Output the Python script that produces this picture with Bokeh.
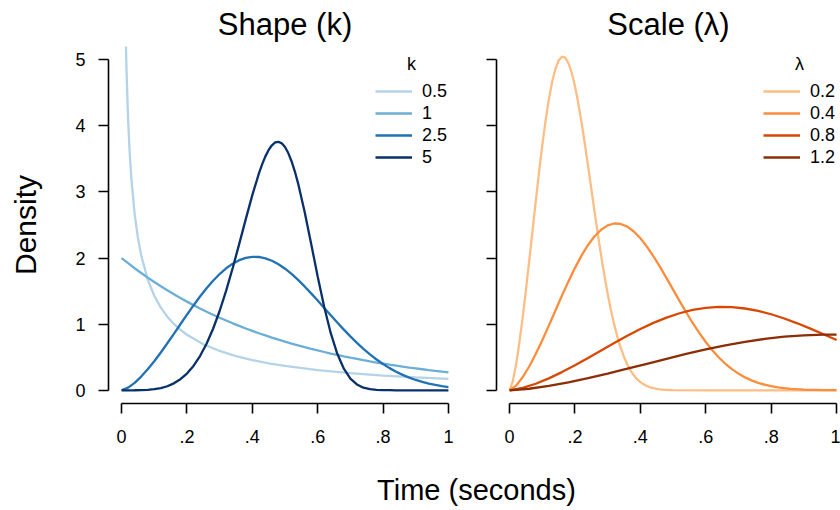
from bokeh.plotting import figure
from bokeh.models import Range1d, FixedTicker, Legend, LegendItem, Label
from bokeh.layouts import row, column
from bokeh.embed import file_html
from bokeh.resources import INLINE

FONT = "Liberation Sans"

# ---------------- data ----------------
x_ticks = [0, 0.2, 0.4, 0.6, 0.8, 1]
x_tick_labels = ["0", ".2", ".4", ".6", ".8", "1"]
y_ticks = [0, 1, 2, 3, 4, 5]
y_tick_labels = ["0", "1", "2", "3", "4", "5"]

shape_labels = ["0.5", "1", "2.5", "5"]
scale_labels = ["0.2", "0.4", "0.8", "1.2"]
shape_colors = ["#b4d3e9", "#6baed6", "#2171b5", "#08306b"]
scale_colors = ["#fdbe85", "#fd8d3c", "#d94801", "#8c2d04"]

time_k05 = [0.005, 0.0075, 0.01, 0.0125, 0.015, 0.02, 0.025, 0.03, 0.04, 0.05,
            0.06, 0.08, 0.10, 0.12, 0.14, 0.16, 0.18, 0.20, 0.25, 0.30, 0.35,
            0.40, 0.45, 0.50, 0.60, 0.70, 0.80, 0.90, 1.00]
dens_k05 = [9.048, 7.224, 6.139, 5.400, 4.855, 4.094, 3.576, 3.196, 2.664, 2.305,
            2.042, 1.676, 1.430, 1.251, 1.113, 1.004, 0.915, 0.840, 0.697, 0.595,
            0.518, 0.457, 0.408, 0.368, 0.305, 0.259, 0.223, 0.195, 0.172]

time = [0.00, 0.02, 0.04, 0.06, 0.08, 0.10, 0.12, 0.14, 0.16, 0.18,
        0.20, 0.22, 0.24, 0.26, 0.28, 0.30, 0.32, 0.34, 0.36, 0.38,
        0.40, 0.42, 0.44, 0.46, 0.48, 0.50, 0.52, 0.54, 0.56, 0.58,
        0.60, 0.62, 0.64, 0.66, 0.68, 0.70, 0.72, 0.74, 0.76, 0.78,
        0.80, 0.82, 0.84, 0.86, 0.88, 0.90, 0.92, 0.94, 0.96, 0.98, 1.00]
dens_k1 = [2.000, 1.922, 1.846, 1.774, 1.704, 1.637, 1.573, 1.512, 1.452, 1.395,
           1.341, 1.288, 1.238, 1.189, 1.142, 1.098, 1.055, 1.013, 0.974, 0.935,
           0.899, 0.863, 0.830, 0.797, 0.766, 0.736, 0.707, 0.679, 0.653, 0.627,
           0.602, 0.579, 0.556, 0.534, 0.513, 0.493, 0.474, 0.455, 0.437, 0.420,
           0.404, 0.388, 0.373, 0.358, 0.344, 0.331, 0.318, 0.305, 0.293, 0.282, 0.271]
dens_k25 = [0.000, 0.040, 0.113, 0.207, 0.317, 0.439, 0.572, 0.711, 0.854, 0.999,
            1.143, 1.283, 1.418, 1.543, 1.657, 1.758, 1.845, 1.915, 1.968, 2.002,
            2.018, 2.016, 1.996, 1.959, 1.906, 1.839, 1.760, 1.670, 1.571, 1.466,
            1.357, 1.246, 1.134, 1.024, 0.917, 0.815, 0.718, 0.627, 0.543, 0.466,
            0.397, 0.335, 0.281, 0.233, 0.192, 0.156, 0.126, 0.101, 0.081, 0.063, 0.049]
time_k5 = [0.00, 0.02, 0.04, 0.06, 0.08, 0.10, 0.12, 0.14, 0.16, 0.18,
           0.20, 0.22, 0.24, 0.26, 0.28, 0.30, 0.32, 0.34, 0.36, 0.38,
           0.40, 0.42, 0.43, 0.44, 0.45, 0.46, 0.47, 0.48, 0.49, 0.50,
           0.51, 0.52, 0.53, 0.54, 0.56, 0.58, 0.60, 0.62, 0.64, 0.66,
           0.68, 0.70, 0.72, 0.74, 0.76, 0.78, 0.80, 0.82, 0.84, 0.86,
           0.88, 0.90, 0.92, 0.94, 0.96, 0.98, 1.00]
dens_k5 = [0.0000, 0.0000, 0.0004, 0.0021, 0.0066, 0.016, 0.033, 0.061, 0.105, 0.167,
           0.253, 0.369, 0.518, 0.704, 0.931, 1.199, 1.507, 1.849, 2.215, 2.589,
           2.952, 3.277, 3.417, 3.538, 3.635, 3.706, 3.748, 3.758, 3.735, 3.679,
           3.588, 3.465, 3.312, 3.130, 2.701, 2.216, 1.722, 1.260, 0.864, 0.552,
           0.326, 0.177, 0.088, 0.039, 0.016, 0.006, 0.002, 0.001, 0.000, 0.000,
           0.000, 0.000, 0.000, 0.000, 0.000, 0.000, 0.000]

time_fine = [0.00, 0.01, 0.02, 0.03, 0.04, 0.05, 0.06, 0.07, 0.08, 0.09,
             0.10, 0.11, 0.12, 0.13, 0.14, 0.15, 0.16, 0.17, 0.18, 0.19,
             0.20, 0.21, 0.22, 0.23, 0.24, 0.25, 0.26, 0.27, 0.28, 0.29,
             0.30, 0.31, 0.32, 0.33, 0.34, 0.35, 0.36, 0.37, 0.38, 0.39,
             0.40, 0.41, 0.42, 0.43, 0.44, 0.45, 0.46, 0.47, 0.48, 0.49,
             0.50, 0.60, 0.70, 0.80, 0.90, 1.00]
dens_l02 = [0.000, 0.140, 0.394, 0.720, 1.098, 1.514, 1.955, 2.407, 2.858, 3.294,
            3.703, 4.074, 4.396, 4.660, 4.859, 4.988, 5.046, 5.032, 4.949, 4.803,
            4.599, 4.346, 4.054, 3.733, 3.393, 3.045, 2.698, 2.359, 2.037, 1.736,
            1.460, 1.212, 0.993, 0.802, 0.640, 0.504, 0.391, 0.299, 0.226, 0.168,
            0.124, 0.089, 0.064, 0.045, 0.031, 0.021, 0.014, 0.010, 0.006, 0.004,
            0.003, 0.000, 0.000, 0.000, 0.000, 0.000]
dens_l04 = [0.000, 0.070, 0.197, 0.360, 0.549, 0.757, 0.978, 1.204, 1.429, 1.647,
            1.852, 2.037, 2.198, 2.330, 2.429, 2.494, 2.523, 2.516, 2.475, 2.401,
            2.299, 2.173, 2.027, 1.866, 1.697, 1.523, 1.349, 1.180, 1.018, 0.868,
            0.730, 0.606, 0.496, 0.401, 0.320, 0.252, 0.195, 0.150, 0.113, 0.084,
            0.062, 0.045, 0.032, 0.022, 0.016, 0.011, 0.007, 0.005, 0.003, 0.002, 0.001]
time_coarse = [0.00, 0.04, 0.08, 0.12, 0.16, 0.20, 0.24, 0.28, 0.32, 0.36,
               0.40, 0.44, 0.48, 0.52, 0.56, 0.60, 0.64, 0.68, 0.72, 0.76,
               0.80, 0.84, 0.88, 0.92, 0.96, 1.00]
dens_l08 = [0.000, 0.035, 0.099, 0.180, 0.275, 0.379, 0.489, 0.602, 0.715, 0.824,
            0.926, 1.019, 1.099, 1.165, 1.215, 1.247, 1.262, 1.258, 1.237, 1.201,
            1.150, 1.086, 1.013, 0.933, 0.848, 0.761]
time_wide = [0.00, 0.06, 0.12, 0.18, 0.24, 0.30, 0.36, 0.42, 0.48, 0.54,
             0.60, 0.66, 0.72, 0.78, 0.84, 0.90, 0.96, 1.00]
dens_l12 = [0.000, 0.023, 0.066, 0.120, 0.183, 0.252, 0.326, 0.401, 0.476, 0.549,
            0.617, 0.679, 0.733, 0.777, 0.810, 0.831, 0.841, 0.841]

shape_series = [(time_k05, dens_k05), (time, dens_k1), (time, dens_k25), (time_k5, dens_k5)]
scale_series = [(time_fine, dens_l02), (time, dens_l04), (time_coarse, dens_l08), (time_wide, dens_l12)]

# ---------------- styling helpers ----------------
def style(p, ylabels):
    p.xgrid.visible = False
    p.ygrid.visible = False
    p.outline_line_color = None
    p.background_fill_color = "white"
    p.border_fill_color = "white"
    p.title.text_font = FONT
    p.title.text_font_size = "31px"
    p.title.text_font_style = "normal"
    p.title.align = "center"
    p.title.text_color = "black"
    p.title.standoff = 9
    for ax in (p.xaxis[0], p.yaxis[0]):
        ax.axis_line_width = 1.6
        ax.axis_line_color = "black"
        ax.major_tick_line_width = 1.6
        ax.major_tick_line_color = "black"
        ax.major_tick_in = 0
        ax.major_tick_out = 10
        ax.minor_tick_line_color = None
        ax.major_label_text_font = FONT
        ax.major_label_text_font_size = "18px"
        ax.major_label_text_color = "black"
    xa = p.xaxis[0]
    xa.ticker = FixedTicker(ticks=x_ticks)
    xa.major_label_overrides = dict(zip(x_ticks, x_tick_labels))
    xa.bounds = (0, 1)
    xa.major_label_standoff = 16
    ya = p.yaxis[0]
    ya.ticker = FixedTicker(ticks=y_ticks)
    ya.bounds = (0, 5)
    if ylabels:
        ya.major_label_overrides = dict(zip(y_ticks, y_tick_labels))
        ya.major_label_standoff = 13
    else:
        ya.major_label_overrides = {t: "" for t in y_ticks}
        ya.major_label_standoff = 0


def add_curves(p, series, labels, colors, title):
    items = []
    for (xs, ys), lab, col in zip(series, labels, colors):
        r = p.line(xs, ys, line_color=col, line_width=2.3)
        items.append(LegendItem(label=lab, renderers=[r]))
    leg = Legend(items=items, location=(267, 235), padding=0, spacing=0,
                 label_height=22, glyph_height=22, glyph_width=37,
                 label_standoff=10, border_line_color=None,
                 background_fill_alpha=0, label_text_font=FONT,
                 label_text_font_size="18px", label_text_color="black", margin=0)
    p.add_layout(leg)
    p.add_layout(Label(x=303, y=340, x_units="screen", y_units="screen", text=title,
                       text_align="center", text_baseline="alphabetic",
                       text_font=FONT, text_font_size="18px", text_color="black"))


p1 = figure(width=470, height=463, x_range=Range1d(-0.04, 1.04), y_range=Range1d(-0.2, 5.2),
            output_backend="svg", toolbar_location=None, title="Shape (k)",
            min_border_left=108, min_border_right=9, min_border_top=46, min_border_bottom=60)
style(p1, True)
p1.yaxis[0].axis_label = "Density"
p1.yaxis[0].axis_label_text_font = FONT
p1.yaxis[0].axis_label_text_font_size = "30px"
p1.yaxis[0].axis_label_text_font_style = "normal"
p1.yaxis[0].axis_label_text_color = "black"
p1.yaxis[0].axis_label_standoff = 30
add_curves(p1, shape_series, shape_labels, shape_colors, "k")

p2 = figure(width=370, height=463, x_range=Range1d(-0.04, 1.012), y_range=Range1d(-0.2, 5.2),
            output_backend="svg", toolbar_location=None, title="Scale (\u03bb)",
            min_border_left=26, min_border_right=0, min_border_top=46, min_border_bottom=60)
style(p2, False)
add_curves(p2, scale_series, scale_labels, scale_colors, "\u03bb")

p3 = figure(width=840, height=47, x_range=Range1d(0, 840), y_range=Range1d(0, 47),
            output_backend="svg", toolbar_location=None,
            min_border_left=0, min_border_right=0, min_border_top=0, min_border_bottom=0)
p3.axis.visible = False
p3.xgrid.visible = False
p3.ygrid.visible = False
p3.outline_line_color = None
p3.add_layout(Label(x=476, y=21, text="Time (seconds)", text_align="center",
                    text_baseline="middle", text_font=FONT, text_font_size="29px",
                    text_color="black"))

layout = column(row(p1, p2), p3)
open("out.html", "w").write(file_html(layout, INLINE))
